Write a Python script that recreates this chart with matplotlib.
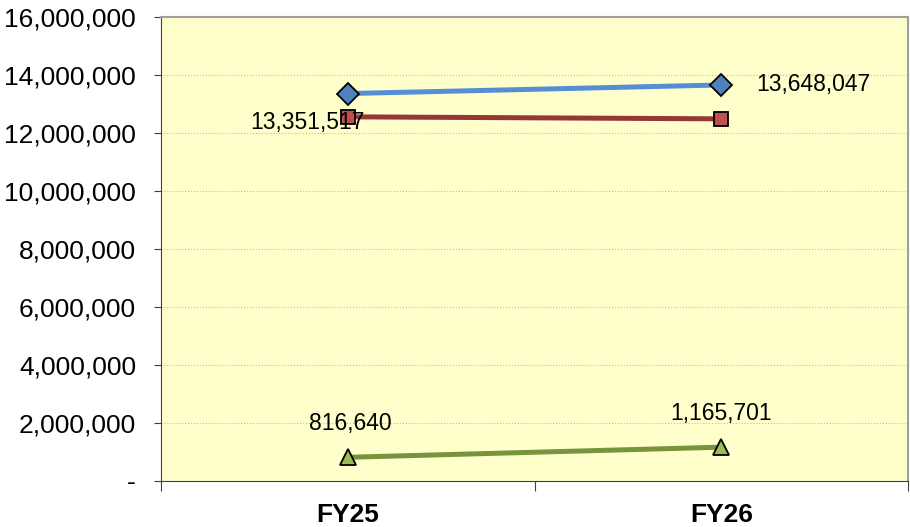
import matplotlib.pyplot as plt
from matplotlib.ticker import FuncFormatter

plt.rcParams['font.family'] = ['Liberation Sans', 'DejaVu Sans']

years = ['FY25', 'FY26']
blue_vals = [13351517, 13648047]
red_vals = [12550000, 12480000]
green_vals = [816640, 1165701]
y_ticks = [0, 2000000, 4000000, 6000000, 8000000, 10000000, 12000000, 14000000, 16000000]

fig = plt.figure(figsize=(9.1, 5.27), dpi=100)
ax = fig.add_axes([0.177, 0.0873, 0.821, 0.881])
ax.set_facecolor('#FFFFCC')

x = list(range(len(years)))
ax.plot(x, blue_vals, color='#558ED5', lw=3.6, marker='D', ms=11.5,
        mfc='#4F81BD', mec='black', mew=1.3, zorder=3)
ax.plot(x, red_vals, color='#953735', lw=3.6, marker='s', ms=10.5,
        mfc='#C0504D', mec='black', mew=1.3, zorder=3)
ax.plot(x, green_vals, color='#77933C', lw=3.6, marker='^', ms=12,
        mfc='#9BBB59', mec='black', mew=1.3, zorder=3)

# value labels
ax.annotate(f'{blue_vals[0]:,}', (x[0], blue_vals[0]), xytext=(-29, -21),
            textcoords='offset points', ha='center', va='center', fontsize=16.5, zorder=4)
ax.annotate(f'{blue_vals[1]:,}', (x[1], blue_vals[1]), xytext=(66, 0),
            textcoords='offset points', ha='center', va='center', fontsize=16.5, zorder=4)
for xi, v, dx in zip(x, green_vals, [2, 0]):
    ax.annotate(f'{v:,}', (xi, v), xytext=(dx, 24), textcoords='offset points',
                ha='center', va='center', fontsize=16.5, zorder=4)

ax.set_xlim(-0.5, 1.5)
ax.set_ylim(0, 16000000)
ax.set_yticks(y_ticks)
ax.yaxis.set_major_formatter(FuncFormatter(lambda v, p: '-' if v == 0 else f'{int(v):,}'))
ax.tick_params(axis='y', labelsize=19, length=5, direction='out', color='#404040', pad=13)
ax.grid(axis='y', color='#BBBBBB', ls=':', lw=0.8)

ax.set_xticks([-0.5, 0.5, 1.5])
ax.set_xticklabels([])
ax.tick_params(axis='x', which='major', length=7, direction='out', color='#404040')
ax.set_xticks(x, minor=True)
ax.set_xticklabels(years, minor=True, fontweight='bold', fontsize=19)
ax.tick_params(axis='x', which='minor', length=0, pad=16)

for s in ['left', 'bottom']:
    ax.spines[s].set_color('#404040')
for s in ['top', 'right']:
    ax.spines[s].set_color('#A0A0A0')
    ax.spines[s].set_linewidth(1.5)

fig.savefig('out.png', dpi=100)
